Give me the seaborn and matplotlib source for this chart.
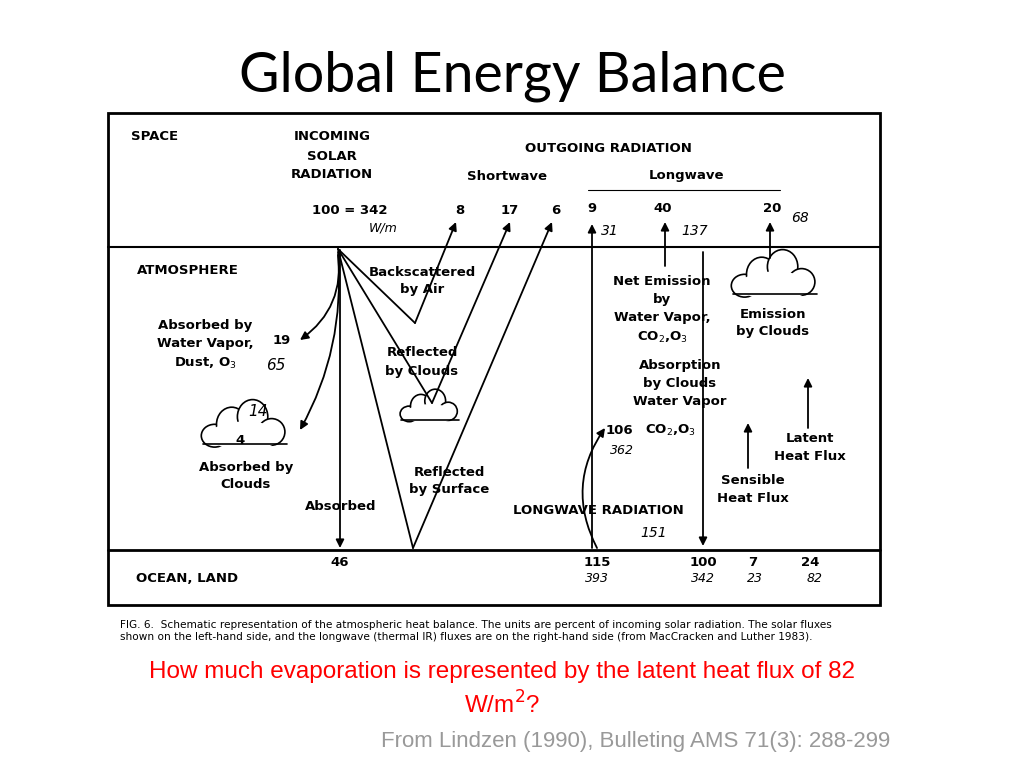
import matplotlib
matplotlib.use("Agg")
import matplotlib.pyplot as plt
import seaborn as sns
from matplotlib.patches import Ellipse, Rectangle

sns.set_theme(style="white")
plt.rcParams['font.family'] = ['DejaVu Sans']
plt.rcParams['text.color'] = 'black'

shortwave_out = ["8", "17", "6"]
longwave_out = ["9", "40", "20"]
longwave_hand = ["31", "137", "68"]
surface_vals = ["46", "115", "100", "7", "24"]
surface_hand = ["393", "342", "23", "82"]

fig = plt.figure(figsize=(10.24, 7.68), dpi=100)
ax = fig.add_axes([0, 0, 1, 1])
ax.set_xlim(0, 1024); ax.set_ylim(768, 0); ax.axis("off")

ax.text(512, 76, "Global Energy Balance", ha="center", va="center", fontsize=40, family="Lato", color="black")
ax.add_patch(Rectangle((108, 113), 772, 492, fill=False, lw=2, color="black"))
ax.plot([108, 880], [247, 247], color="black", lw=1.5)
ax.plot([108, 880], [550, 550], color="black", lw=2)

b = dict(fontsize=9.5, fontweight="bold", ha="center", va="center", family="DejaVu Sans")
ax.text(155, 137, "SPACE", **b)
ax.text(332, 156, "INCOMING\nSOLAR\nRADIATION", linespacing=1.6, **b)
ax.text(608, 148, "OUTGOING RADIATION", **b)
ax.text(507, 176, "Shortwave", **b); ax.text(686, 175, "Longwave", **b)
ax.plot([588, 780], [190, 190], color="black", lw=0.8)
ax.text(350, 211, "100 = 342", **b)
ax.text(383, 228, "W/m", fontsize=9, style="italic", ha="center", va="center")
for x, s in zip([460, 510, 556], shortwave_out):
    ax.text(x, 210, s, **b)
for x, s in zip([592, 663, 772], longwave_out):
    ax.text(x, 209, s, **b)
for x, s in zip([610, 695, 800], longwave_hand):
    ax.text(x, 231 if x < 700 else 218, s, fontsize=10, style="italic", ha="center", va="center")

ax.text(188, 270, "ATMOSPHERE", **b)
ax.text(422, 281, "Backscattered\nby Air", linespacing=1.5, **b)
ax.text(205, 345, "Absorbed by\nWater Vapor,\nDust, O$_3$", linespacing=1.5, **b)
ax.text(282, 341, "19", **b)
ax.text(276, 366, "65", fontsize=11, style="italic", ha="center", va="center")
ax.text(422, 362, "Reflected\nby Clouds", linespacing=1.5, **b)
ax.text(662, 310, "Net Emission\nby\nWater Vapor,\nCO$_2$,O$_3$", linespacing=1.5, **b)
ax.text(773, 323, "Emission\nby Clouds", linespacing=1.5, **b)
ax.text(680, 384, "Absorption\nby Clouds\nWater Vapor", linespacing=1.5, **b)
ax.text(670, 430, "CO$_2$,O$_3$", **b)
ax.text(619, 431, "106", **b)
ax.text(622, 450, "362", fontsize=9, style="italic", ha="center", va="center")
ax.text(246, 476, "Absorbed by\nClouds", linespacing=1.5, **b)
ax.text(240, 440, "4", **b)
ax.text(258, 412, "14", fontsize=11, style="italic", ha="center", va="center")
ax.text(449, 481, "Reflected\nby Surface", linespacing=1.5, **b)
ax.text(341, 507, "Absorbed", **b)
ax.text(598, 511, "LONGWAVE RADIATION", **b)
ax.text(654, 533, "151", fontsize=10, style="italic", ha="center", va="center")
ax.text(810, 447, "Latent\nHeat Flux", linespacing=1.5, **b)
ax.text(753, 490, "Sensible\nHeat Flux", linespacing=1.5, **b)

ax.text(187, 578, "OCEAN, LAND", **b)
for x, s in zip([340, 597, 703, 753, 810], surface_vals):
    ax.text(x, 562, s, **b)
for x, s in zip([597, 703, 755, 815], surface_hand):
    ax.text(x, 578, s, fontsize=9, style="italic", ha="center", va="center")

ln = dict(color="black", lw=1.3)
def arrow(x0, y0, x1, y1, rad=0):
    ax.annotate("", xy=(x1, y1), xytext=(x0, y0),
                arrowprops=dict(arrowstyle="-|>", color="black", lw=1.3, mutation_scale=12,
                                shrinkA=0, shrinkB=0,
                                connectionstyle=f"arc3,rad={rad}"))
O = (338, 249)
ax.plot([O[0], 415], [O[1], 323], **ln); arrow(415, 323, 456, 222)
ax.plot([O[0], 432], [O[1], 403], **ln); arrow(432, 403, 510, 222)
ax.plot([O[0], 413], [O[1], 548], **ln); arrow(413, 548, 552, 222)
arrow(340, 250, 340, 548)
arrow(338, 252, 300, 340, rad=-0.3)
arrow(338, 255, 300, 430, rad=-0.15)
arrow(592, 548, 592, 224)
arrow(665, 266, 665, 222)
arrow(770, 258, 770, 222)
arrow(597, 548, 605, 428, rad=-0.3)
arrow(703, 252, 703, 546)
arrow(748, 468, 748, 423)
arrow(808, 428, 808, 378)

def cloud(cx, cy, s):
    for dx, dy, w, h in [(-0.8, 0.15, 0.7, 0.6), (-0.35, -0.15, 0.8, 0.9), (0.2, -0.35, 0.8, 0.9),
                         (0.7, 0.05, 0.7, 0.7)]:
        ax.add_patch(Ellipse((cx + dx * s, cy + dy * s), w * s, h * s, fc="white", ec="black", lw=1.2))
    ax.add_patch(Ellipse((cx, cy + 0.15 * s), 1.9 * s, 0.75 * s, fc="white", ec="none"))
    ax.plot([cx - 1.1 * s, cx + 1.1 * s], [cy + 0.38 * s, cy + 0.38 * s], color="black", lw=1.2)
cloud(245, 430, 38); cloud(430, 410, 26); cloud(775, 280, 38)

ax.text(120, 631, "FIG. 6.  Schematic representation of the atmospheric heat balance. The units are percent of incoming solar radiation. The solar fluxes\nshown on the left-hand side, and the longwave (thermal IR) fluxes are on the right-hand side (from MacCracken and Luther 1983).",
        fontsize=7.6, ha="left", va="center", linespacing=1.3)
ax.text(502, 672, "How much evaporation is represented by the latent heat flux of 82", color="#ff0000",
        fontsize=17.5, ha="center", va="center", family="Liberation Sans")
ax.text(502, 705, "W/m$^2$?", color="#ff0000", fontsize=17.5, ha="center", va="center", family="Liberation Sans")
ax.text(636, 742, "From Lindzen (1990), Bulleting AMS 71(3): 288-299", color="#999999",
        fontsize=16, ha="center", va="center", family="Liberation Sans")
fig.savefig("out.png", dpi=100)
